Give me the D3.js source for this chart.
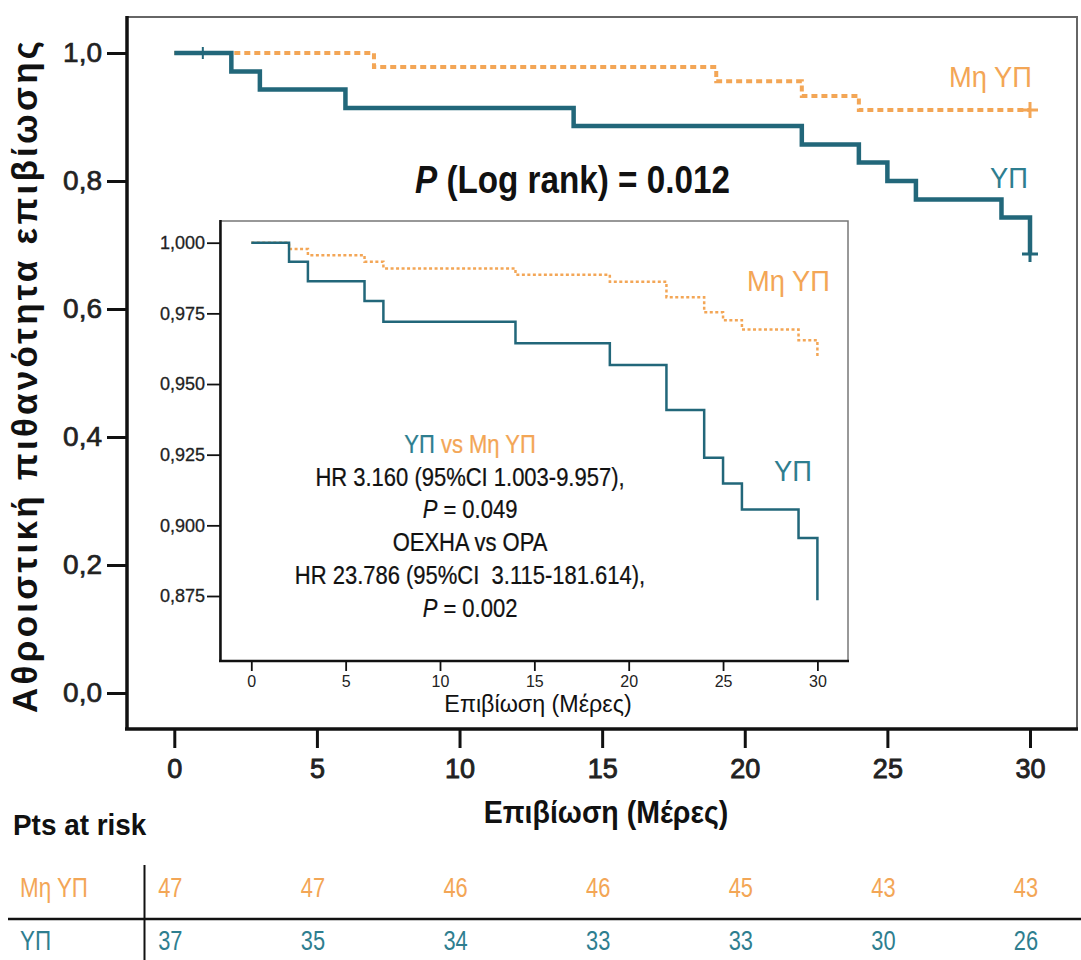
<!DOCTYPE html>
<html>
<head>
<meta charset="utf-8">
<script src="https://cdn.jsdelivr.net/npm/d3@7"></script>
<style>
  body { margin: 0; background: #fff; }
  svg { display: block; }
</style>
</head>
<body>
<div id="chart"></div>
<script>
// main chart: Kaplan-Meier steps (days, survival)
var timesYP = [0, 2, 3, 6, 14, 22, 24, 25, 26, 29, 30];
var survYP = [1.000, 0.971, 0.943, 0.914, 0.886, 0.857, 0.829, 0.800, 0.771, 0.743, 0.686];
var timesNoYP = [0, 7, 19, 22, 24, 30];
var survNoYP = [1.000, 0.978, 0.956, 0.933, 0.911, 0.911];
var censorYP = [[1, 1.000], [30, 0.686]];
var censorNoYP = [[30, 0.911]];

// inset (zoomed y range)
var insetTimes = [0, 2, 3, 6, 7, 14, 19, 22, 24, 25, 26, 29, 30];
var insetSurvYP = [1.000, 0.9933, 0.9864, 0.9794, 0.9720, 0.9644, 0.9567, 0.9408, 0.9239, 0.9148, 0.9056, 0.8955, 0.8735];
var insetSurvNoYP = [1.000, 0.9978, 0.9956, 0.9933, 0.9909, 0.9887, 0.9862, 0.9807, 0.9754, 0.9726, 0.9693, 0.9655, 0.9591];

var xTicks = [0, 5, 10, 15, 20, 25, 30];
var yTicks = [0, 0.2, 0.4, 0.6, 0.8, 1.0];
var insetYTicks = [0.875, 0.900, 0.925, 0.950, 0.975, 1.000];

// patients at risk
var riskTimes = [0, 5, 10, 15, 20, 25, 30];
var riskNoYP = [47, 47, 46, 46, 45, 43, 43];
var riskYP = [37, 35, 34, 33, 33, 30, 26];

var ORANGE = "#f3a656", TEAL = "#22677a", TEAL_TXT = "#2e7e8f";
var SANS = "'Liberation Sans',Arial,sans-serif";

var svg = d3.select("#chart").append("svg")
    .attr("width", 1081).attr("height", 960);

// no narrow font installed: squeeze text horizontally instead
function narrow(parent, px, py, sx, size) {
    return parent.append("g")
        .attr("transform", "translate(" + px + "," + py + ") scale(" + sx + ",1)")
        .append("text")
        .attr("font-family", SANS).attr("font-size", size);
}

var x = d3.scaleLinear().domain([0, 30]).range([174.3, 1030]);
var y = d3.scaleLinear().domain([0, 1]).range([693, 53]);

// frame
svg.append("rect").attr("x", 127).attr("y", 17).attr("width", 950).attr("height", 712)
    .attr("fill", "none").attr("stroke", "#666").attr("stroke-width", 2);
svg.append("line").attr("x1", 127).attr("x2", 127).attr("y1", 16).attr("y2", 730)
    .attr("stroke", "#111").attr("stroke-width", 3.5);
svg.append("line").attr("x1", 125).attr("x2", 1078).attr("y1", 729).attr("y2", 729)
    .attr("stroke", "#111").attr("stroke-width", 3.5);

var xAxis = svg.append("g").attr("transform", "translate(0,729)")
    .call(d3.axisBottom(x).tickValues(xTicks).tickSize(19).tickSizeOuter(0).tickPadding(11));
xAxis.select(".domain").remove();
xAxis.selectAll("line").attr("stroke", "#111").attr("stroke-width", 3);
xAxis.selectAll("text").attr("font-family", SANS).attr("font-size", 27)
    .attr("fill", "#222").attr("stroke", "#222").attr("stroke-width", 0.9);

var yAxis = svg.append("g").attr("transform", "translate(127,0)")
    .call(d3.axisLeft(y).tickValues(yTicks).tickSize(20).tickSizeOuter(0).tickPadding(5)
        .tickFormat(function(d) { return d3.format(".1f")(d).replace(".", ","); }));
yAxis.select(".domain").remove();
yAxis.selectAll("line").attr("stroke", "#111").attr("stroke-width", 3);
yAxis.selectAll("text").attr("font-family", SANS).attr("font-size", 28)
    .attr("fill", "#222").attr("stroke", "#222").attr("stroke-width", 0.7);

svg.append("text")
    .attr("transform", "translate(37,377) rotate(-90)")
    .attr("text-anchor", "middle")
    .attr("font-family", SANS).attr("font-weight", "bold").attr("font-size", 35)
    .attr("textLength", 672).attr("lengthAdjust", "spacing")
    .attr("fill", "#111")
    .text("Αθροιστική πιθανότητα επιβίωσης");

narrow(svg, 606, 823, 0.92, 31).attr("text-anchor", "middle")
    .attr("font-weight", "bold").attr("fill", "#111")
    .text("Επιβίωση (Μέρες)");

var line = d3.line().x(function(d) { return x(d[0]); }).y(function(d) { return y(d[1]); })
    .curve(d3.curveStepAfter);

svg.append("path").datum(d3.zip(timesNoYP, survNoYP)).attr("d", line)
    .attr("fill", "none").attr("stroke", ORANGE).attr("stroke-width", 4)
    .attr("stroke-dasharray", "6,4");
svg.append("path").datum(d3.zip(timesYP, survYP)).attr("d", line)
    .attr("fill", "none").attr("stroke", TEAL).attr("stroke-width", 4.5);

// censor marks
svg.append("line").attr("x1", x(censorYP[0][0])).attr("x2", x(censorYP[0][0]))
    .attr("y1", y(censorYP[0][1]) - 6).attr("y2", y(censorYP[0][1]) + 6)
    .attr("stroke", TEAL).attr("stroke-width", 2);
function plus(g, d, color) {
    g.append("path")
        .attr("d", "M" + (x(d[0]) - 8) + "," + y(d[1]) + "h16M" + x(d[0]) + "," + (y(d[1]) - 8) + "v16")
        .attr("stroke", color).attr("stroke-width", 3).attr("fill", "none");
}
plus(svg, censorYP[1], TEAL);
plus(svg, censorNoYP[0], ORANGE);

narrow(svg, 949, 87, 0.91, 30).attr("fill", ORANGE).text("Μη ΥΠ");
narrow(svg, 990, 188, 0.91, 30).attr("fill", TEAL_TXT).text("ΥΠ");

var pt = narrow(svg, 415, 193, 0.875, 38).attr("font-weight", "bold").attr("fill", "#111");
pt.append("tspan").attr("font-style", "italic").text("P");
pt.append("tspan").text(" (Log rank) = 0.012");

// ---- inset ----
var xi = d3.scaleLinear().domain([0, 30]).range([251.3, 817.4]);
var yi = d3.scaleLinear().domain([0.875, 1.0]).range([596, 242.7]);

svg.append("rect").attr("x", 220).attr("y", 221).attr("width", 628).attr("height", 440)
    .attr("fill", "#fff").attr("stroke", "#777").attr("stroke-width", 1.5);
svg.append("line").attr("x1", 220.5).attr("x2", 220.5).attr("y1", 220).attr("y2", 662)
    .attr("stroke", "#111").attr("stroke-width", 2.5);
svg.append("line").attr("x1", 219).attr("x2", 849).attr("y1", 661).attr("y2", 661)
    .attr("stroke", "#111").attr("stroke-width", 2.5);

var xiAxis = svg.append("g").attr("transform", "translate(0,661)")
    .call(d3.axisBottom(xi).tickValues(xTicks).tickSize(10).tickSizeOuter(0).tickPadding(5));
xiAxis.select(".domain").remove();
xiAxis.selectAll("line").attr("stroke", "#111").attr("stroke-width", 1.8);
xiAxis.selectAll("text").attr("font-family", SANS).attr("font-size", 16).attr("fill", "#222");

var yiAxis = svg.append("g").attr("transform", "translate(220,0)")
    .call(d3.axisLeft(yi).tickValues(insetYTicks).tickSize(13).tickSizeOuter(0).tickPadding(2)
        .tickFormat(function(d) { return d3.format(".3f")(d).replace(".", ","); }));
yiAxis.select(".domain").remove();
yiAxis.selectAll("line").attr("stroke", "#111").attr("stroke-width", 1.8);
yiAxis.selectAll("text").attr("font-family", SANS).attr("font-size", 18)
    .attr("fill", "#222").attr("stroke", "#222").attr("stroke-width", 0.3);

narrow(svg, 538, 712, 0.97, 24).attr("text-anchor", "middle").attr("fill", "#111")
    .text("Επιβίωση (Μέρες)");

var linei = d3.line().x(function(d) { return xi(d[0]); }).y(function(d) { return yi(d[1]); })
    .curve(d3.curveStepAfter);
svg.append("path").datum(d3.zip(insetTimes, insetSurvNoYP)).attr("d", linei)
    .attr("fill", "none").attr("stroke", ORANGE).attr("stroke-width", 2.5)
    .attr("stroke-dasharray", "3,2.5");
svg.append("path").datum(d3.zip(insetTimes, insetSurvYP)).attr("d", linei)
    .attr("fill", "none").attr("stroke", TEAL).attr("stroke-width", 2.5);

narrow(svg, 747, 291, 0.91, 30).attr("fill", ORANGE).text("Μη ΥΠ");
narrow(svg, 774, 481, 0.91, 30).attr("fill", TEAL_TXT).text("ΥΠ");

function note(py) {
    return narrow(svg, 470, py, 0.88, 25).attr("text-anchor", "middle")
        .attr("fill", "#111").attr("stroke", "#111").attr("stroke-width", 0.25);
}
var l1 = note(453);
l1.append("tspan").attr("fill", TEAL_TXT).attr("stroke", TEAL_TXT).text("ΥΠ");
l1.append("tspan").attr("fill", ORANGE).attr("stroke", ORANGE).text(" vs Μη ΥΠ");
note(485.7).text("HR 3.160 (95%CI 1.003-9.957),");
var l3 = note(518);
l3.append("tspan").attr("font-style", "italic").text("P");
l3.append("tspan").text(" = 0.049");
note(551).text("OEXHA vs OPA");
note(584).attr("xml:space", "preserve").text("HR 23.786 (95%CI  3.115-181.614),");
var l6 = note(616.5);
l6.append("tspan").attr("font-style", "italic").text("P");
l6.append("tspan").text(" = 0.002");

// ---- risk table ----
narrow(svg, 13, 835, 0.93, 30).attr("font-weight", "bold").attr("fill", "#111").text("Pts at risk");
svg.append("line").attr("x1", 144.5).attr("x2", 144.5).attr("y1", 865).attr("y2", 960)
    .attr("stroke", "#111").attr("stroke-width", 2);
svg.append("line").attr("x1", 8).attr("x2", 1081).attr("y1", 919).attr("y2", 919)
    .attr("stroke", "#111").attr("stroke-width", 2.5);

narrow(svg, 20, 897, 0.8, 28).attr("fill", ORANGE).text("Μη ΥΠ");
narrow(svg, 20, 950, 0.8, 28).attr("fill", TEAL_TXT).text("ΥΠ");

riskTimes.forEach(function(t, i) {
    narrow(svg, x(t) - 4, 897, 0.78, 28).attr("text-anchor", "middle")
        .attr("fill", ORANGE).text(riskNoYP[i]);
    narrow(svg, x(t) - 4, 950, 0.78, 28).attr("text-anchor", "middle")
        .attr("fill", TEAL_TXT).text(riskYP[i]);
});
</script>
</body>
</html>
